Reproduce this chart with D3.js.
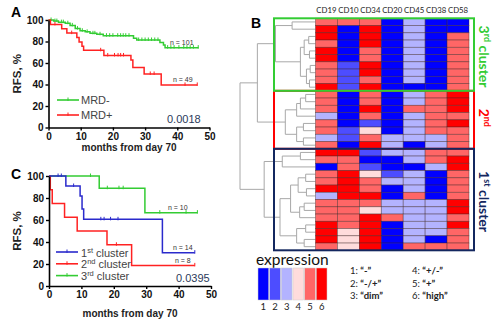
<!DOCTYPE html>
<html>
<head>
<meta charset="utf-8">
<script src="https://cdn.jsdelivr.net/npm/d3@7"></script>
<style>
  body { margin: 0; background: #fff; }
  svg { display: block; }
</style>
</head>
<body>
<svg id="fig" width="500" height="325"></svg>
<script>
// ---- data ----
const monthTicks = [0, 10, 20, 30, 40, 50];
const rfsTicks = [0, 20, 40, 60, 80, 100];

// panel A: [month, RFS %] at each drop
const mrdNegSteps = [[0,100],[1.6,99],[3.1,98],[5.2,97],[6.7,95],[8.3,92],[9.8,90],[11.4,89],[12.9,87.6],[15,86.7],[17,85.4],[26.4,83],[27.4,81.4],[34.6,79],[35.7,76.8],[36.2,74.3]];
const mrdNegEnd = 46.6;
const mrdNegCensored = [0.8,2,2.6,4,4.6,6,7.4,9,10.5,12,13.8,14.4,16,18,19,20,21.5,22.4,23.2,24,25,28,29,30,31,32,33,34,37,38,39,40.5,42,43,44,45,46.5];
const mrdPosSteps = [[0,100],[0.6,95.9],[4.1,91.8],[5.7,87.8],[8.8,83.7],[9.5,79.6],[10.4,75.5],[10.9,71.8],[17.2,67],[25.6,62.8],[26.2,55.7],[29.7,49.8],[35,39.6]];
const mrdPosEnd = 46.2;
const mrdPosCensored = [2,7.2,16.2,18.4,20.5,21.6,22.4,23.3,31.6,32.8,42.4,46.2];
const mrdNames = ["MRD-", "MRD+"];
const mrdN = ["n = 101", "n = 49"];
const pA = "0.0018";

// panel C
const c1Steps = [[0,100],[5.2,90.9],[9.6,81.8],[10.2,70],[10.7,60.6],[35,30.3]];
const c1End = 45;
const c1Censored = [2.8,3.8,7.6,16,17,19,21.3,45];
const c2Steps = [[0,100],[0.4,87.5],[1,75],[4.8,62.5],[8.7,50],[17.9,37.5],[25.5,18.75]];
const c2End = 45;
const c2Censored = [20.8,45];
const c3Steps = [[0,100],[15.5,88.9],[29.6,66.7]];
const c3End = 45.8;
const c3Censored = [12.8,18,21.6,22.9,34.2,42.3,45.8];
const clusterN = ["n = 14", "n = 8", "n = 10"];
const pC = "0.0395";

// panel B heatmap, expression level 1..6, rows top to bottom
const markers = ["CD19","CD10","CD34","CD20","CD45","CD38","CD58"];
const exprLevels = [1,2,3,4,5,6];
const exprColors = ["#0000ff","#4d4dff","#b3b3ff","#ffdcdc","#ff6666","#ff0000"];
const exprNames = ["\u201C-\u201D","\u201C-/+\u201D","\u201Cdim\u201D","\u201C+/-\u201D","\u201C+\u201D","\u201Chigh\u201D"];
const exprRows = [
  [5,5,5,1,3,1,1],[6,1,6,1,3,1,1],[6,1,6,1,3,1,5],[5,1,6,1,3,1,5],[6,1,5,1,3,1,5],
  [6,1,5,1,3,1,5],[5,2,6,1,3,1,5],[5,2,6,1,3,1,5],[5,2,5,1,3,1,5],[6,2,6,1,1,1,5],
  [5,1,5,1,3,5,6],[5,1,5,1,3,5,6],[5,1,6,1,5,5,6],[3,1,5,1,3,5,5],
  [5,1,2,1,3,5,6],[5,2,4,1,3,5,5],[3,2,5,3,3,3,5],[5,1,6,3,1,3,5],
  [6,6,2,3,3,5,5],[5,5,1,1,3,5,6],[1,5,2,1,1,3,6],[5,6,4,2,3,1,5],
  [5,6,5,3,3,1,5],[6,6,5,1,3,1,5],[3,6,6,1,5,1,5],[5,5,5,3,3,3,6],
  [5,5,4,3,3,3,6],[5,5,6,5,3,3,5],[6,5,6,1,3,3,6],[6,4,6,1,3,3,5],
  [6,4,6,1,3,1,5],[5,4,6,1,5,5,5]
];
// dendrogram merges [a, b, height]; merge i creates node 32 + i
const linkage = [
  [0,1,3.1],[2,3,0.9],[4,5,0.8],[33,34,1.5],[6,7,0.7],[8,9,0.8],[36,37,1.2],[35,38,2.0],[32,39,5.3],
  [10,11,1.3],[41,12,2.0],[42,13,2.5],[14,15,1.6],[16,17,1.6],[44,45,2.5],[43,46,4.0],
  [40,47,7.7],
  [18,19,2.0],[49,20,4.4],[21,22,1.3],[23,24,1.2],[51,52,2.3],[25,26,1.5],[54,27,2.1],[53,55,3.3],
  [28,29,1.3],[30,31,1.5],[57,58,2.5],[56,59,4.7],[50,60,6.8],
  [48,61,10]
];
const clusterSizes = [10, 8, 14];
const clusterOrd = ["3", "2", "1"];
const clusterSup = ["rd", "nd", "st"];
const clusterWord = [" cluster", "", " cluster"];
const clusterColors = ["#33cc33", "#ff0000", "#13275f"];

// ---- drawing ----
const svg = d3.select("#fig");
const SANS = "'Liberation Sans', Arial, sans-serif";
const CAL = "Lato, 'Open Sans', sans-serif";
const kmGreen = "#33cc33", kmRed = "#ff2222", kmBlue = "#2a2acc";

function panelLetter(t, x, y) {
  svg.append("text").attr("x", x).attr("y", y).text(t)
    .attr("font-family", SANS).attr("font-weight", "bold").attr("font-size", 14);
}

function kmAxes(g, x, y, titleY) {
  const ax = g.append("g").attr("transform", `translate(0,${y(0)})`)
    .call(d3.axisBottom(x).tickValues(monthTicks).tickSize(3).tickSizeOuter(0).tickPadding(2));
  const ay = g.append("g").attr("transform", `translate(${x(0)},0)`)
    .call(d3.axisLeft(y).tickValues(rfsTicks).tickSize(3).tickSizeOuter(0).tickPadding(2));
  [ax, ay].forEach(a => {
    a.select(".domain").attr("stroke", "#000").attr("stroke-width", 1.6);
    a.selectAll(".tick line").attr("stroke", "#000").attr("stroke-width", 1.4);
    a.selectAll("text").attr("font-family", SANS).attr("font-weight", "bold")
      .attr("font-size", 10).attr("fill", "#111");
  });
  g.append("text").attr("x", (x(0) + x(50)) / 2).attr("y", titleY)
    .attr("text-anchor", "middle").attr("font-family", SANS).attr("font-weight", "bold")
    .attr("font-size", 10).attr("fill", "#222").text("months from day 70");
  g.append("text").attr("transform", `translate(21,${(y(0) + y(100)) / 2}) rotate(-90)`)
    .attr("text-anchor", "middle").attr("font-family", SANS).attr("font-weight", "bold")
    .attr("font-size", 11.5).attr("fill", "#222").text("RFS, %");
}

function kmCurve(g, x, y, steps, end, censored, color) {
  const pts = steps.concat([[end, steps[steps.length - 1][1]]]);
  g.append("path")
    .attr("d", d3.line().x(d => x(d[0])).y(d => y(d[1])).curve(d3.curveStepAfter)(pts))
    .attr("fill", "none").attr("stroke", color).attr("stroke-width", 1.5);
  const survAt = t => { let s = 100; steps.forEach(d => { if (d[0] <= t) s = d[1]; }); return s; };
  g.selectAll(null).data(censored).enter().append("line")
    .attr("x1", d => x(d)).attr("x2", d => x(d))
    .attr("y1", d => y(survAt(d)) - 2.5).attr("y2", d => y(survAt(d)) + 1)
    .attr("stroke", color).attr("stroke-width", 1);
}

function legendLine(g, x0, x1, yy, color) {
  g.append("line").attr("x1", x0).attr("x2", x1).attr("y1", yy).attr("y2", yy)
    .attr("stroke", color).attr("stroke-width", 1.6);
  g.append("line").attr("x1", (x0 + x1) / 2).attr("x2", (x0 + x1) / 2)
    .attr("y1", yy - 2.5).attr("y2", yy + 1).attr("stroke", color).attr("stroke-width", 1);
}

function smallText(g, t, x, y, size, color) {
  return g.append("text").attr("x", x).attr("y", y).text(t)
    .attr("font-family", SANS).attr("font-size", size).attr("fill", color);
}

// Panel A
{
  const g = svg.append("g");
  const x = d3.scaleLinear([0, 50], [48.5, 209.5]);
  const y = d3.scaleLinear([0, 100], [127.5, 20]);
  kmCurve(g, x, y, mrdNegSteps, mrdNegEnd, mrdNegCensored, kmGreen);
  kmCurve(g, x, y, mrdPosSteps, mrdPosEnd, mrdPosCensored, kmRed);
  kmAxes(g, x, y, 151);
  panelLetter("A", 11, 17);
  smallText(g, mrdN[0], 170, 44.5, 7, "#333");
  smallText(g, mrdN[1], 173, 81.5, 7, "#333");
  legendLine(g, 57, 79, 100, kmGreen);
  legendLine(g, 57, 79, 115, kmRed);
  smallText(g, mrdNames[0], 81, 104, 11, "#444");
  smallText(g, mrdNames[1], 81, 119, 11, "#444");
  smallText(g, pA, 167, 123, 11, "#2b3a5a");
}

// Panel C
{
  const g = svg.append("g");
  const x = d3.scaleLinear([0, 50], [49, 211]);
  const y = d3.scaleLinear([0, 100], [286, 176]);
  kmCurve(g, x, y, c3Steps, c3End, c3Censored, kmGreen);
  kmCurve(g, x, y, c2Steps, c2End, c2Censored, kmRed);
  kmCurve(g, x, y, c1Steps, c1End, c1Censored, kmBlue);
  kmAxes(g, x, y, 316.5);
  panelLetter("C", 11, 179);
  smallText(g, clusterN[2], 168, 209.5, 7, "#333");
  smallText(g, clusterN[0], 173, 249.5, 7, "#333");
  smallText(g, clusterN[1], 175, 263, 7, "#333");
  const legColors = [kmBlue, kmRed, kmGreen];
  const ords = ["1", "2", "3"], sups = ["st", "nd", "rd"];
  legColors.forEach((c, i) => {
    const yy = 252 + i * 11.8;
    legendLine(g, 56, 78, yy, c);
    const t = g.append("text").attr("x", 81).attr("y", yy + 4.5)
      .attr("font-family", SANS).attr("font-size", 11).attr("fill", "#444");
    t.append("tspan").text(ords[i]);
    t.append("tspan").attr("dy", -4).attr("font-size", 7.5).text(sups[i]);
    t.append("tspan").attr("dy", 4).text(" cluster");
  });
  smallText(g, pC, 176, 282, 11, "#2b3a5a");
}

// Panel B
{
  const g = svg.append("g");
  const nRows = exprRows.length;
  const col = d3.scaleBand().domain(markers).range([315.5, 469]);
  const row = d3.scaleBand().domain(d3.range(nRows)).range([18.3, 250.3]);
  const color = d3.scaleOrdinal(exprLevels, exprColors);

  // dendrogram
  const dx = d3.scaleLinear([0, 10], [315.5, 240]);
  const nodes = d3.range(nRows).map(i => ({ h: 0, y: row(i) + row.bandwidth() / 2 }));
  linkage.forEach(([a, b, h]) => nodes.push({ a, b, h, y: (nodes[a].y + nodes[b].y) / 2 }));
  const dg = g.append("g").attr("stroke", "#a8a8a8").attr("stroke-width", 1).attr("fill", "none");
  nodes.filter(n => n.a !== undefined).forEach(n => {
    const A = nodes[n.a], B = nodes[n.b];
    dg.append("path").attr("d",
      `M${dx(A.h)},${A.y}H${dx(n.h)}V${B.y}H${dx(B.h)}`);
  });

  // heatmap cells
  g.selectAll(null)
    .data(exprRows.flatMap((r, i) => r.map((v, j) => ({ i, j, v }))))
    .enter().append("rect")
    .attr("x", d => col(markers[d.j])).attr("y", d => row(d.i))
    .attr("width", col.bandwidth()).attr("height", row.bandwidth())
    .attr("fill", d => color(d.v))
    .attr("stroke", "#3a2020").attr("stroke-opacity", 0.55).attr("stroke-width", 0.7);

  g.selectAll(null).data(markers).enter().append("text")
    .attr("x", d => col(d) + col.bandwidth() / 2).attr("y", 13)
    .attr("text-anchor", "middle").attr("font-family", CAL).attr("font-size", 7.8)
    .attr("fill", "#222").text(d => d);

  // cluster boxes and labels
  let start = 0;
  const boxes = clusterSizes.map((s, k) => { const b = { k, y0: row(start), y1: start + s < nRows ? row(start + s) : row.range()[1] }; start += s; return b; });
  [1, 0, 2].forEach(k => {
    const b = boxes[k];
    g.append("rect").attr("x", 274).attr("y", b.y0).attr("width", 200).attr("height", b.y1 - b.y0)
      .attr("fill", "none").attr("stroke", clusterColors[k]).attr("stroke-width", 2);
  });
  boxes.forEach(b => {
    const k = b.k;
    const t = g.append("text")
      .attr("transform", `translate(479,${(b.y0 + b.y1) / 2 + (k === 1 ? -2 : 2)}) rotate(90)`)
      .attr("text-anchor", "middle").attr("font-family", CAL).attr("font-weight", "bold")
      .attr("font-size", 14).attr("fill", clusterColors[k]);
    t.append("tspan").text(clusterOrd[k]);
    t.append("tspan").attr("dy", -5).attr("font-size", 9).text(clusterSup[k]);
    t.append("tspan").attr("dy", 5).text(clusterWord[k]);
  });

  panelLetter("B", 251, 28);

  // expression legend
  g.append("text").attr("x", 256).attr("y", 265).attr("font-family", CAL)
    .attr("font-size", 15.5).attr("fill", "#111").text("expression");
  const lx = d3.scaleBand().domain(exprLevels).range([258, 327]).paddingInner(0.08);
  g.selectAll(null).data(exprLevels).enter().append("rect")
    .attr("x", d => lx(d)).attr("y", 268).attr("width", lx.bandwidth()).attr("height", 32)
    .attr("fill", d => color(d)).attr("stroke", "#ccc").attr("stroke-width", 0.5);
  g.selectAll(null).data(exprLevels).enter().append("text")
    .attr("x", d => lx(d) + lx.bandwidth() / 2).attr("y", 310).attr("text-anchor", "middle")
    .attr("font-family", CAL).attr("font-size", 9.5).attr("fill", "#222").text(d => d);
  exprLevels.forEach((lv, i) => {
    const t = g.append("text").attr("x", i < 3 ? 350 : 412).attr("y", 274 + (i % 3) * 12.5)
      .attr("font-family", CAL).attr("font-size", 9.5).attr("fill", "#222");
    t.append("tspan").text(lv + ": ");
    t.append("tspan").attr("font-weight", "bold").text(exprNames[i]);
  });
}
</script>
</body>
</html>
